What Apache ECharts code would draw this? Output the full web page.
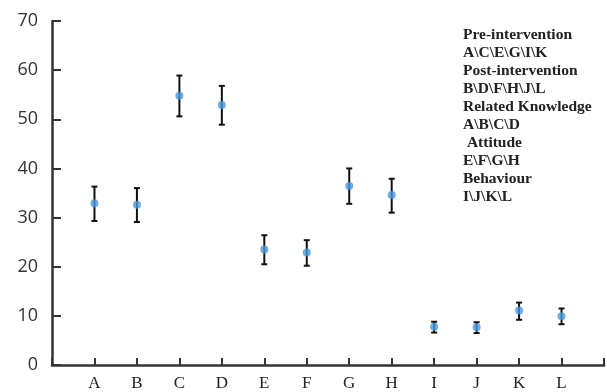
<!DOCTYPE html>
<html>
<head>
<meta charset="utf-8">
<script src="https://cdn.jsdelivr.net/npm/echarts@6/dist/echarts.min.js"></script>
<style>
  html, body { margin: 0; padding: 0; background: #fff; }
  #main { width: 607px; height: 392px; }
</style>
</head>
<body>
<div id="main"></div>
<script>
// group labels on the x axis
var categories = ['A', 'B', 'C', 'D', 'E', 'F', 'G', 'H', 'I', 'J', 'K', 'L']
// mean scores
var means = [32.9, 32.6, 54.8, 52.9, 23.5, 22.9, 36.4, 34.6, 7.8, 7.7, 11.1, 9.9]
// error bar ends
var upper = [36.3, 36.0, 58.9, 56.8, 26.4, 25.4, 40.0, 37.9, 8.8, 8.7, 12.7, 11.5]
var lower = [29.3, 29.1, 50.6, 48.9, 20.5, 20.2, 32.8, 31.0, 6.6, 6.5, 9.2, 8.3]
var yTicks = [0, 10, 20, 30, 40, 50, 60, 70]
var notes = [
  'Pre-intervention', 'A\\C\\E\\G\\I\\K',
  'Post-intervention', 'B\\D\\F\\H\\J\\L',
  'Related Knowledge', 'A\\B\\C\\D',
  ' Attitude', 'E\\F\\G\\H',
  'Behaviour', 'I\\J\\K\\L'
]

var chart = echarts.init(document.getElementById('main'))

var pointData = means.map(function (v, i) { return [i + 1, v] })
var barData = categories.map(function (c, i) { return [i + 1, lower[i], upper[i]] })

chart.setOption({
  animation: false,
  grid: { left: 52, right: 1, top: 21, bottom: 26 },
  xAxis: {
    type: 'value',
    min: 0,
    max: categories.length + 1,
    interval: 1,
    splitLine: { show: false },
    axisLine: { show: true, lineStyle: { color: '#333', width: 2.5 } },
    axisTick: { show: true, inside: true, length: 7, lineStyle: { color: '#333', width: 2 } },
    axisLabel: {
      margin: 10,
      color: '#222',
      fontFamily: 'Liberation Serif',
      fontSize: 17,
      formatter: function (v) { return categories[v - 1] || '' }
    }
  },
  yAxis: {
    type: 'value',
    min: yTicks[0],
    max: yTicks[yTicks.length - 1],
    interval: 10,
    splitLine: { show: false },
    axisLine: { show: true, lineStyle: { color: '#333', width: 2.5 } },
    axisTick: { show: true, inside: true, length: 9, lineStyle: { color: '#333', width: 2 } },
    axisLabel: {
      margin: 14,
      color: '#333',
      fontFamily: 'Open Sans',
      fontSize: 18
    }
  },
  series: [
    {
      type: 'custom',
      data: barData,
      z: 2,
      renderItem: function (params, api) {
        var x = api.value(0)
        var lo = api.coord([x, api.value(1)])
        var hi = api.coord([x, api.value(2)])
        var w = 3
        var style = { stroke: '#111', lineWidth: 2 }
        return {
          type: 'group',
          children: [
            { type: 'line', shape: { x1: hi[0], y1: hi[1], x2: lo[0], y2: lo[1] }, style: style },
            { type: 'line', shape: { x1: hi[0] - w, y1: hi[1], x2: hi[0] + w, y2: hi[1] }, style: style },
            { type: 'line', shape: { x1: lo[0] - w, y1: lo[1], x2: lo[0] + w, y2: lo[1] }, style: style }
          ]
        }
      }
    },
    {
      type: 'scatter',
      data: pointData,
      symbol: 'circle',
      symbolSize: 8,
      z: 3,
      itemStyle: { color: '#4a98dc' }
    }
  ],
  graphic: [
    {
      type: 'text',
      left: 463,
      top: 26,
      style: {
        text: notes.join('\n'),
        font: 'bold 15.5px "Liberation Serif"',
        lineHeight: 18,
        fill: '#222'
      }
    }
  ]
})
</script>
</body>
</html>
